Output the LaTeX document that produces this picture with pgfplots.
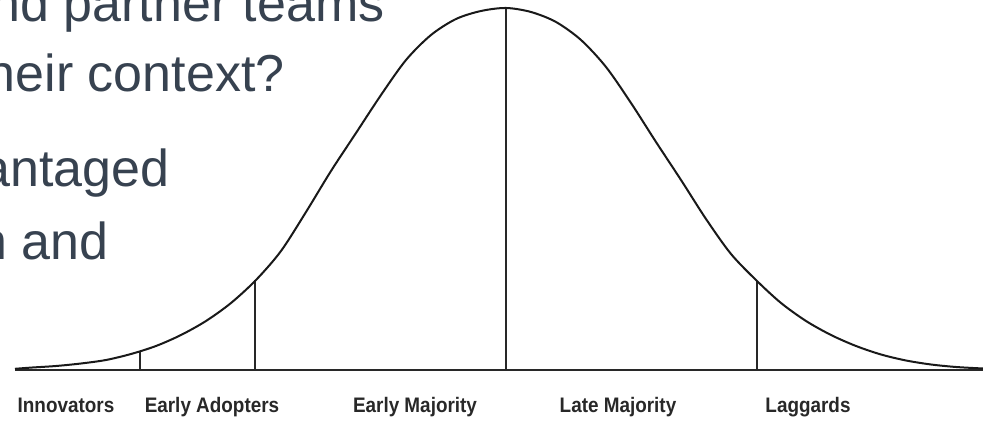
\documentclass[border=0pt]{standalone}
\usepackage{pgfplots}
\pgfplotsset{compat=1.18}
\usepackage{fontspec}
\setmainfont{Liberation Sans}
\definecolor{slide}{RGB}{55,66,80}
\definecolor{ink}{RGB}{25,25,25}
\definecolor{lab}{RGB}{40,40,40}
\begin{document}
\begin{tikzpicture}
\begin{axis}[
  scale only axis,
  width=491.5pt, height=210.5pt,
  xmin=0, xmax=983, ymin=-51, ymax=370,
  hide axis, clip=false,
]
\coordinate (bl) at (rel axis cs:0,0);
\coordinate (tr) at (rel axis cs:1,1);
% baseline
\addplot[lab, line width=1.2pt] coordinates {(15,0) (983,0)};
% segment dividers
\addplot[lab, line width=0.75pt, ycomb, mark=none] coordinates {(140,19) (255,90) (506,362) (757,89)};
% adoption curve
\addplot[ink, line width=1pt, smooth] coordinates {
(15,1.2)(31,2.4)(56,4)(81,6.5)(106,10)(131,16)(156,24)(181,35)(206,49)(231,67)
(256,90)(281,119)(306,158)(331,199)(356,237)(381,275)(406,310)(431,335)
(456,351)(481,359)(506,362)
(531,358)(556,348)(581,330)(606,303)(631,267)(656,228)(681,190)(706,151)
(731,116)(757,89)(781,67)(806,49)(831,35)(856,24)(881,15.5)(906,9.5)
(931,5.5)(956,3)(983,1.5)};
% category labels
\foreach \xx/\tt in {66/Innovators, 212/Early Adopters, 415/Early Majority, 618/Late Majority, 808/Laggards}{
  \edef\temp{\noexpand\node[anchor=base, inner sep=0pt, text=lab, font=\noexpand\fontsize{10.5pt}{12pt}\noexpand\selectfont\noexpand\bfseries] at (axis cs:\xx,-43) {\noexpand\scalebox{0.9}[1]{\tt}};}
  \temp
}
% slide text behind
\node[anchor=base east, inner sep=0pt, text=slide, font=\fontsize{26pt}{30pt}\selectfont] at (axis cs:385,348) {nd partner teams};
\node[anchor=base east, inner sep=0pt, text=slide, font=\fontsize{26pt}{30pt}\selectfont] at (axis cs:285,278) {heir context?};
\node[anchor=base east, inner sep=0pt, text=slide, font=\fontsize{26pt}{30pt}\selectfont] at (axis cs:170,183) {antaged};
\node[anchor=base east, inner sep=0pt, text=slide, font=\fontsize{26pt}{30pt}\selectfont] at (axis cs:109,110) {n and};
\end{axis}
\pgfresetboundingbox
\useasboundingbox (bl) rectangle (tr);
\end{tikzpicture}
\end{document}
